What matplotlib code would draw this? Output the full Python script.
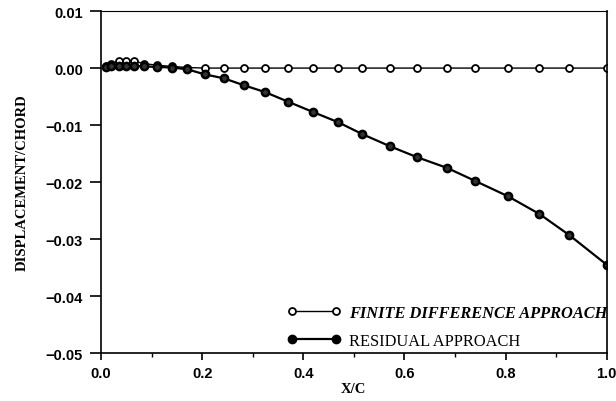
import matplotlib
matplotlib.use("Agg")
import matplotlib.pyplot as plt

# x/c stations (shared by both series)
x_c = [0.010, 0.020, 0.035, 0.050, 0.065, 0.085, 0.110, 0.140, 0.170,
       0.205, 0.243, 0.282, 0.324, 0.370, 0.419, 0.469, 0.517, 0.571,
       0.624, 0.684, 0.740, 0.805, 0.867, 0.926, 1.000]

finite_difference = [0.0004, 0.0008, 0.0012, 0.0013, 0.0012, 0.0008, 0.0005,
                     0.0003, 0.0001, 0.0, 0.0, 0.0, 0.0, 0.0, 0.0, 0.0, 0.0,
                     0.0, 0.0, 0.0, 0.0, 0.0, 0.0, 0.0, 0.0]

residual = [0.0002, 0.0003, 0.0004, 0.0004, 0.0004, 0.0003, 0.0002, 0.0001,
            -0.0002, -0.0011, -0.0018, -0.0030, -0.0042, -0.0059, -0.0077,
            -0.0095, -0.0116, -0.0137, -0.0156, -0.0175, -0.0198, -0.0225,
            -0.0256, -0.0293, -0.0345]

x_ticks = [0.0, 0.2, 0.4, 0.6, 0.8, 1.0]
y_ticks = [0.01, 0.00, -0.01, -0.02, -0.03, -0.04, -0.05]


def main():
    fig = plt.figure(figsize=(6.16, 4.02), dpi=100)
    ax = fig.add_axes([0.164, 0.119, 0.821, 0.851])

    ax.plot(x_c, finite_difference, color="black", lw=1.0, marker="o",
            ms=5, mfc="white", mec="black", mew=1.3,
            label="FINITE DIFFERENCE APPROACH")
    ax.plot(x_c, residual, color="black", lw=1.6, marker="o",
            ms=5.2, mfc="#333333", mec="black", mew=1.8,
            label="RESIDUAL APPROACH")

    ax.set_xlim(0.0, 1.0)
    ax.set_ylim(-0.05, 0.01)
    ax.set_xticks(x_ticks)
    ax.set_xticks([0.1, 0.3, 0.5, 0.7, 0.9], minor=True)
    ax.set_yticks(y_ticks)
    ax.set_xticklabels(["%.1f" % t for t in x_ticks],
                       fontfamily="Liberation Sans", fontweight="bold", fontsize=10.5)
    ax.set_yticklabels(["%.2f" % t if t >= 0 else "\u2212%.2f" % -t for t in y_ticks],
                       fontfamily="Liberation Sans", fontweight="bold", fontsize=10.5)
    ax.tick_params(axis="y", which="major", direction="out", length=8, width=1.2, pad=5)
    ax.tick_params(axis="x", which="major", direction="out", length=5, width=1.2, pad=4)
    ax.tick_params(axis="x", which="minor", direction="out", length=3, width=1.0)

    for s in ax.spines.values():
        s.set_linewidth(1.2)
    ax.spines["top"].set_linewidth(0.8)

    ax.set_xlabel("X/C", fontfamily="Liberation Serif", fontweight="bold",
                  fontsize=10.5, labelpad=2)
    ax.set_ylabel("DISPLACEMENT/CHORD", fontfamily="Liberation Serif",
                  fontweight="bold", fontsize=10.5, labelpad=12)

    leg = ax.legend(loc="lower right", bbox_to_anchor=(1.01, 0.0),
                    frameon=False, numpoints=2,
                    handlelength=3.3, handletextpad=0.5, labelspacing=0.75,
                    borderaxespad=0.0, borderpad=0.25,
                    prop={"family": "Liberation Serif", "size": 11.8})
    texts = leg.get_texts()
    texts[0].set_fontstyle("italic")
    texts[0].set_fontweight("bold")
    leg.legend_handles[1].set_markerfacecolor("black")

    fig.savefig("out.png", dpi=100)


if __name__ == "__main__":
    main()
